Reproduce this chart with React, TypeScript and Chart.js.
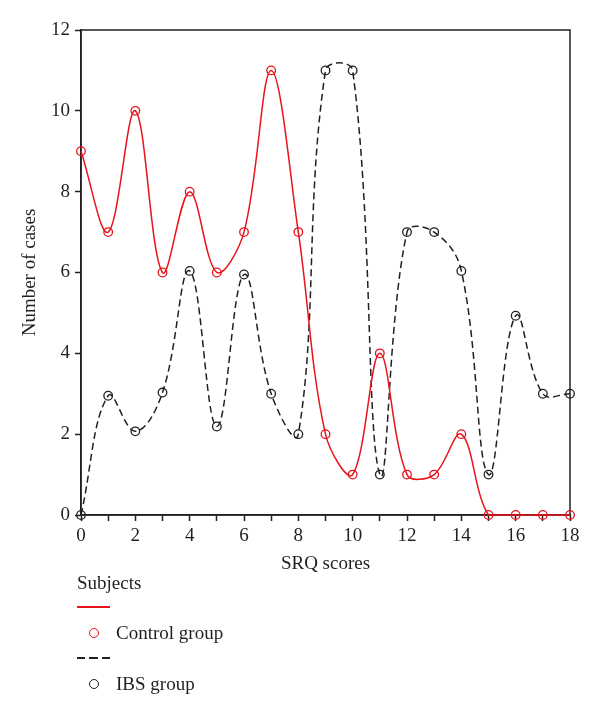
import React, { useEffect, useRef } from "react";
import { Chart, registerables } from "chart.js";

Chart.register(...registerables);

const scores = [0, 1, 2, 3, 4, 5, 6, 7, 8, 9, 10, 11, 12, 13, 14, 15, 16, 17, 18];
const controlCases = [9, 7, 10, 6, 8, 6, 7, 11, 7, 2, 1, 4, 1, 1, 2, 0, 0, 0, 0];
const ibsCases = [0, 2.95, 2.07, 3.03, 6.04, 2.19, 5.95, 3, 2, 11, 11, 1, 7, 7, 6.04, 1, 4.93, 3, 3];
const xTickLabels = ["0", "2", "4", "6", "8", "10", "12", "14", "16", "18"];
const yTickLabels = ["0", "2", "4", "6", "8", "10", "12"];

const RED = "#e8131b";
const INK = "#231f20";
const FONT = "'Liberation Serif', 'Times New Roman', serif";

const frame = {
  id: "frame",
  beforeDatasetsDraw(chart: any) {
    const { ctx, chartArea } = chart;
    ctx.save();
    ctx.strokeStyle = INK;
    ctx.lineWidth = 1.5;
    ctx.strokeRect(chartArea.left, chartArea.top, chartArea.right - chartArea.left, chartArea.bottom - chartArea.top);
    ctx.restore();
  },
};

export default function App() {
  const ref = useRef<HTMLCanvasElement | null>(null);

  useEffect(() => {
    if (!ref.current) return;
    const chart = new Chart(ref.current, {
      type: "line",
      data: {
        datasets: [
          {
            label: "Control group",
            data: scores.map((s, i) => ({ x: s, y: controlCases[i] })),
            borderColor: RED,
            borderWidth: 1.5,
            pointStyle: "circle",
            pointRadius: 4.3,
            pointBorderWidth: 1.3,
            pointBorderColor: RED,
            pointBackgroundColor: "rgba(0,0,0,0)",
            tension: 0.35,
            fill: false,
            clip: false,
          },
          {
            label: "IBS group",
            data: scores.map((s, i) => ({ x: s, y: ibsCases[i] })),
            borderColor: INK,
            borderWidth: 1.5,
            borderDash: [7, 4],
            pointStyle: "circle",
            pointRadius: 4.3,
            pointBorderWidth: 1.3,
            pointBorderColor: INK,
            pointBackgroundColor: "rgba(0,0,0,0)",
            tension: 0.4,
            fill: false,
            clip: false,
          },
        ],
      },
      options: {
        animation: false,
        responsive: false,
        events: [],
        layout: { padding: { top: 30, right: 30, left: 0, bottom: 139 } },
        plugins: { legend: { display: false }, tooltip: { enabled: false } },
        scales: {
          x: {
            type: "linear",
            min: 0,
            max: 18,
            afterFit: (s: any) => { s.height = 60; },
            afterBuildTicks: (s: any) => {
              s.ticks = scores.map((v) => ({ value: v }));
            },
            border: { display: true, color: INK, width: 1.5 },
            grid: { drawOnChartArea: false, drawTicks: true, tickLength: 6, tickColor: INK, tickWidth: 1.5 },
            ticks: {
              autoSkip: false,
              maxRotation: 0,
              padding: 4,
              color: INK,
              font: { family: FONT, size: 19 },
              callback: (v: any) => {
                const t = String(v);
                return xTickLabels.includes(t) ? t : "";
              },
            },
            title: {
              display: true,
              text: "SRQ scores",
              color: INK,
              font: { family: FONT, size: 19 },
              padding: { top: 0, bottom: 0 },
            },
          },
          y: {
            type: "linear",
            min: 0,
            max: 12,
            afterFit: (s: any) => { s.width = 81; },
            afterBuildTicks: (s: any) => {
              s.ticks = yTickLabels.map((v) => ({ value: Number(v) }));
            },
            border: { display: true, color: INK, width: 1.5 },
            grid: { drawOnChartArea: false, drawTicks: true, tickLength: 6, tickColor: INK, tickWidth: 1.5 },
            ticks: {
              padding: 5,
              color: INK,
              font: { family: FONT, size: 19 },
            },
            title: {
              display: true,
              text: "Number of cases",
              color: INK,
              font: { family: FONT, size: 19 },
              padding: { top: 19, bottom: 0 },
            },
          },
        },
      },
      plugins: [frame],
    });
    return () => chart.destroy();
  }, []);

  const textStyle: React.CSSProperties = {
    position: "absolute",
    fontFamily: FONT,
    fontSize: 19,
    color: INK,
    lineHeight: "20px",
    whiteSpace: "nowrap",
  };

  return (
    <div style={{ position: "absolute", left: 0, top: 0, width: 600, height: 714, background: "#fff" }}>
      <canvas ref={ref} width={600} height={714} style={{ position: "absolute", left: 0, top: 0 }} />
      <div style={{ ...textStyle, left: 77, top: 573 }}>Subjects</div>
      <div style={{ position: "absolute", left: 77, top: 606, width: 33, height: 1.5, background: RED }} />
      <div style={{ position: "absolute", left: 89, top: 628, width: 8, height: 8, borderRadius: "50%", border: `1.4px solid ${RED}` }} />
      <div style={{ ...textStyle, left: 116, top: 623 }}>Control group</div>
      <div
        style={{
          position: "absolute",
          left: 77,
          top: 657,
          width: 33,
          height: 1.5,
          background: `repeating-linear-gradient(to right, ${INK} 0px, ${INK} 8px, transparent 8px, transparent 12.5px)`,
        }}
      />
      <div style={{ position: "absolute", left: 89, top: 679, width: 8, height: 8, borderRadius: "50%", border: `1.4px solid ${INK}` }} />
      <div style={{ ...textStyle, left: 116, top: 674 }}>IBS group</div>
    </div>
  );
}
